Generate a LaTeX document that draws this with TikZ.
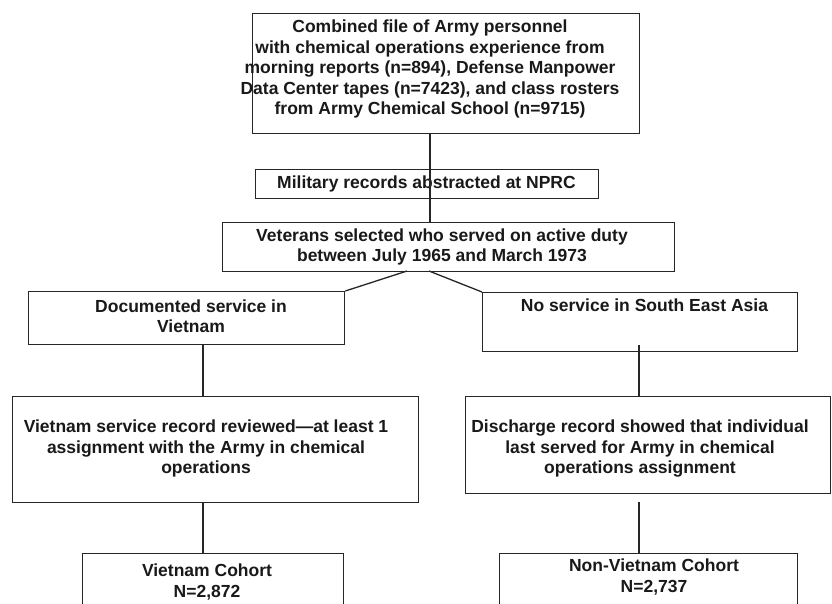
\documentclass[tikz,border=0pt]{standalone}
\usepackage{fontspec}
\setmainfont{Liberation Sans}
\begin{document}
\begin{tikzpicture}[x=1pt,y=-1pt,
  box/.style={draw=black!85, line width=1.3pt, rectangle, inner sep=0pt, anchor=north west},
  txt/.style={font=\bfseries\fontsize{17.5}{20.5}\selectfont, align=center, inner sep=0pt, text=black!90},
  conn/.style={draw=black!85, line width=1.3pt}]
\clip (0,0) rectangle (832,603);
\fill[white] (0,0) rectangle (832,603);
% boxes
\node[box, minimum width=387pt, minimum height=120pt] (top) at (252,13) {};
\node[box, minimum width=343pt, minimum height=29pt] (nprc) at (255,169) {};
\node[box, minimum width=452pt, minimum height=49pt] (vet) at (222,222) {};
\node[box, minimum width=316pt, minimum height=53pt] (L1) at (28,291) {};
\node[box, minimum width=315pt, minimum height=59pt] (R1) at (482,292) {};
\node[box, minimum width=406pt, minimum height=106pt] (L2) at (12,396) {};
\node[box, minimum width=365pt, minimum height=97pt] (R2) at (465,396) {};
\node[box, minimum width=261pt, minimum height=70pt] (L3) at (82,553) {};
\node[box, minimum width=298pt, minimum height=70pt] (R3) at (499,553) {};
% texts
\node[txt] (topT) at (430,69) {Combined file of Army personnel\\with chemical operations experience from\\morning reports (n=894), Defense Manpower\\Data Center tapes (n=7423), and class rosters\\from Army Chemical School (n=9715)};
\node[txt] (nprcT) at (426.5,183.5) {Military records abstracted at NPRC};
\node[txt] (vetT) at (442,247) {Veterans selected who served on active duty\\between July 1965 and March 1973};
\node[txt] (L1T) at (191,316) {Documented service in\\Vietnam};
\node[txt] (R1T) at (644.5,305) {No service in South East Asia};
\node[txt] (L2T) at (206,448.5) {Vietnam service record reviewed—at least 1\\assignment with the Army in chemical\\operations};
\node[txt] (R2T) at (640,449) {Discharge record showed that individual\\last served for Army in chemical\\operations assignment};
\node[txt] (L3T) at (207,582) {Vietnam Cohort\\N=2,872};
\node[txt] (R3T) at (654,577) {Non-Vietnam Cohort\\N=2,737};
% connectors
\coordinate (tx) at (430,0);
\coordinate (lx) at (203,0);
\coordinate (vl) at (407,271);
\coordinate (vr) at (429,271);
\coordinate (r1in) at (639,345);
\coordinate (r2out) at (639,502);
\draw[conn] (top.south -| tx) -- (vet.north -| tx);
\draw[conn] (vl) -- (L1.north east);
\draw[conn] (vr) -- (R1.north west);
\draw[conn] (L1.south -| lx) -- (L2.north -| lx);
\draw[conn] (L2.south -| lx) -- (L3.north -| lx);
\draw[conn] (r1in) -- (R2.north -| r1in);
\draw[conn] (r2out) -- (R3.north -| r2out);
\end{tikzpicture}
\end{document}
